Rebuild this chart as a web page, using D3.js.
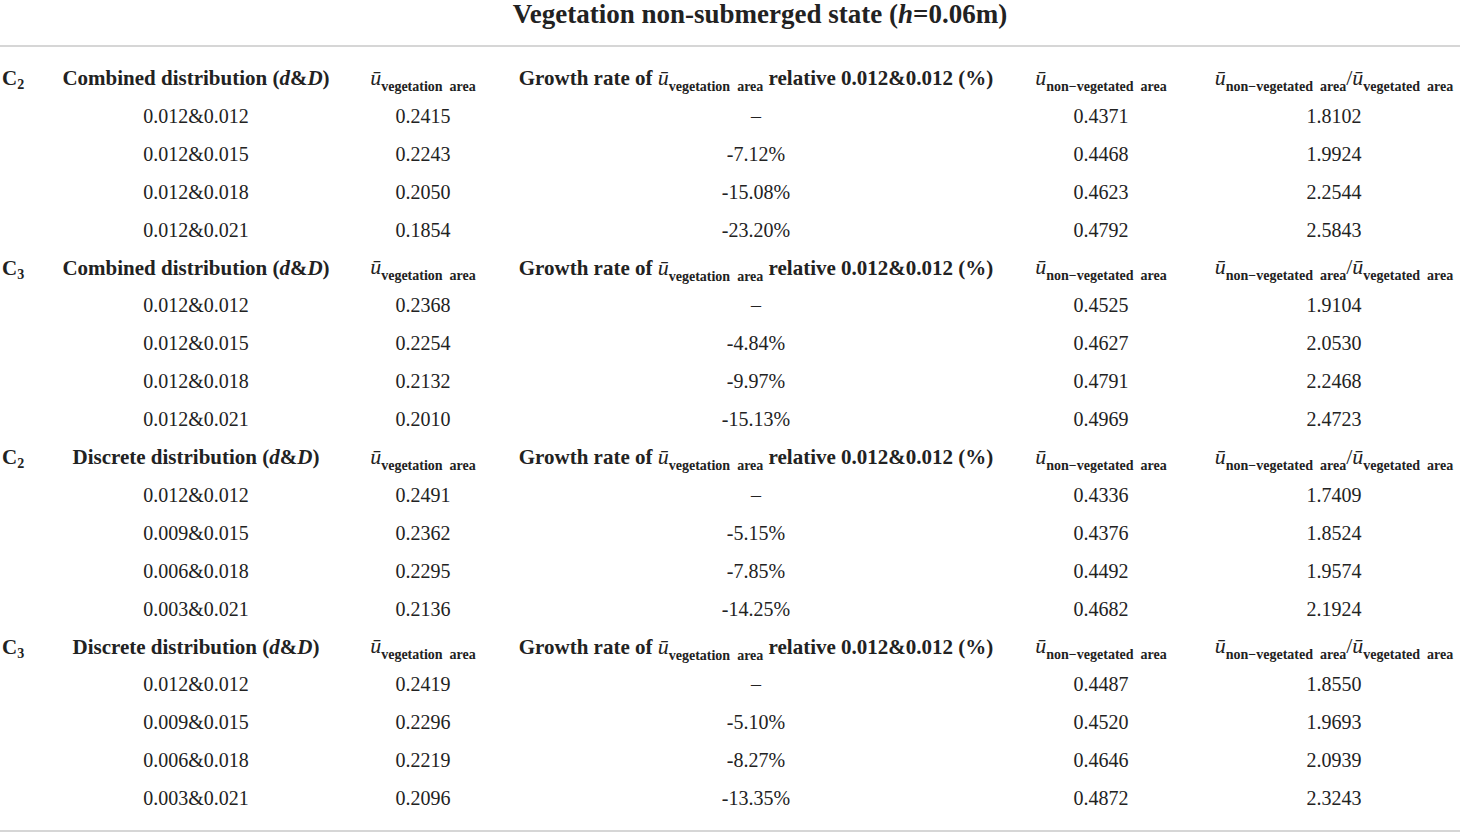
<!DOCTYPE html>
<html><head><meta charset="utf-8">
<script src="https://cdn.jsdelivr.net/npm/d3@7"></script>
<style>
body{margin:0;background:#fff;}
text{font-family:"Liberation Serif","Times New Roman",serif;fill:#222;}
</style></head>
<body><svg id="chart" width="1460" height="833"></svg>
<script>
const title = "Vegetation non-submerged state";
const groupCodes = ["2","3","2","3"];
const groupTypes = ["Combined distribution","Combined distribution","Discrete distribution","Discrete distribution"];
const dD = [
 ["0.012&0.012","0.012&0.015","0.012&0.018","0.012&0.021"],
 ["0.012&0.012","0.012&0.015","0.012&0.018","0.012&0.021"],
 ["0.012&0.012","0.009&0.015","0.006&0.018","0.003&0.021"],
 ["0.012&0.012","0.009&0.015","0.006&0.018","0.003&0.021"]
];
const uVeg = [
 ["0.2415","0.2243","0.2050","0.1854"],
 ["0.2368","0.2254","0.2132","0.2010"],
 ["0.2491","0.2362","0.2295","0.2136"],
 ["0.2419","0.2296","0.2219","0.2096"]
];
const growth = [
 ["–","-7.12%","-15.08%","-23.20%"],
 ["–","-4.84%","-9.97%","-15.13%"],
 ["–","-5.15%","-7.85%","-14.25%"],
 ["–","-5.10%","-8.27%","-13.35%"]
];
const uNon = [
 ["0.4371","0.4468","0.4623","0.4792"],
 ["0.4525","0.4627","0.4791","0.4969"],
 ["0.4336","0.4376","0.4492","0.4682"],
 ["0.4487","0.4520","0.4646","0.4872"]
];
const ratio = [
 ["1.8102","1.9924","2.2544","2.5843"],
 ["1.9104","2.0530","2.2468","2.4723"],
 ["1.7409","1.8524","1.9574","2.1924"],
 ["1.8550","1.9693","2.0939","2.3243"]
];

const svg = d3.select("#chart");
const W = 1460, H = 833;
const cols = ["code","dist","uveg","growth","unon","ratio"];
const x = d3.scaleOrdinal().domain(cols).range([2,196,423,756,1101,1334]);
const y = d3.scalePoint().domain(d3.range(20)).range([78,798]);

// title
const t = svg.append("text").attr("x",760).attr("y",23).attr("text-anchor","middle")
  .style("font-size","27px").style("font-weight","bold");
t.append("tspan").text(title+" (");
t.append("tspan").style("font-style","italic").text("h");
t.append("tspan").text("=0.06m)");

svg.append("line").attr("x1",0).attr("x2",W).attr("y1",46).attr("y2",46)
  .attr("stroke","#c8c8c8").attr("stroke-width",1.5);
svg.append("line").attr("x1",0).attr("x2",W).attr("y1",831).attr("y2",831)
  .attr("stroke","#c8c8c8").attr("stroke-width",1.5);

const FS = 20, HS = 21, SUB = 14, SD = 6, US = 22;
function ubar(sel, sub){
  sel.append("tspan").style("font-style","italic").style("font-weight","normal").style("font-size",US+"px").text("u\u0304");
  sel.append("tspan").attr("dy",SD).style("font-size",SUB+"px").style("font-weight","bold").text(sub);
}

groupTypes.forEach((gt,g)=>{
  const r = g*5;
  const yy = y(r);
  // code
  const c = svg.append("text").attr("x",x("code")).attr("y",yy).attr("dy","0.35em")
    .style("font-size",HS+"px").style("font-weight","bold");
  c.append("tspan").text("C");
  c.append("tspan").attr("dy",4).style("font-size","14px").text(groupCodes[g]);
  // dist header
  const d = svg.append("text").attr("x",x("dist")).attr("y",yy).attr("dy","0.35em")
    .attr("text-anchor","middle").style("font-size",HS+"px").style("font-weight","bold");
  d.append("tspan").text(gt+" (");
  d.append("tspan").style("font-style","italic").text("d");
  d.append("tspan").text("&");
  d.append("tspan").style("font-style","italic").text("D");
  d.append("tspan").text(")");
  // uveg header
  const u = svg.append("text").attr("x",x("uveg")).attr("y",yy).attr("dy","0.35em")
    .attr("text-anchor","middle").style("font-size",FS+"px");
  ubar(u,"vegetation\u00a0\u00a0area");
  // growth header
  const gr = svg.append("text").attr("x",x("growth")).attr("y",yy).attr("dy","0.35em")
    .attr("text-anchor","middle").style("font-size",HS+"px").style("font-weight","bold");
  gr.append("tspan").text("Growth rate of ");
  ubar(gr,"vegetation\u00a0\u00a0area");
  gr.append("tspan").attr("dy",-SD).text(" relative 0.012&0.012 (%)");
  // unon header
  const un = svg.append("text").attr("x",x("unon")).attr("y",yy).attr("dy","0.35em")
    .attr("text-anchor","middle").style("font-size",FS+"px");
  ubar(un,"non\u2212vegetated\u00a0\u00a0area");
  // ratio header
  const ra = svg.append("text").attr("x",x("ratio")).attr("y",yy).attr("dy","0.35em")
    .attr("text-anchor","middle").style("font-size",FS+"px");
  ubar(ra,"non\u2212vegetated\u00a0\u00a0area");
  ra.append("tspan").attr("dy",-SD).style("font-size","22px").text("/");
  ubar(ra,"vegetated\u00a0\u00a0area");

  // data rows
  const rows = d3.range(4).map(i=>({i, vals:{dist:dD[g][i],uveg:uVeg[g][i],growth:growth[g][i],unon:uNon[g][i],ratio:ratio[g][i]}}));
  rows.forEach(row=>{
    const ry = y(r+1+row.i);
    ["dist","uveg","growth","unon","ratio"].forEach(k=>{
      svg.append("text").attr("x",x(k)).attr("y",ry).attr("dy","0.35em")
        .attr("text-anchor","middle").style("font-size",FS+"px").text(row.vals[k]);
    });
  });
});
</script></body></html>
